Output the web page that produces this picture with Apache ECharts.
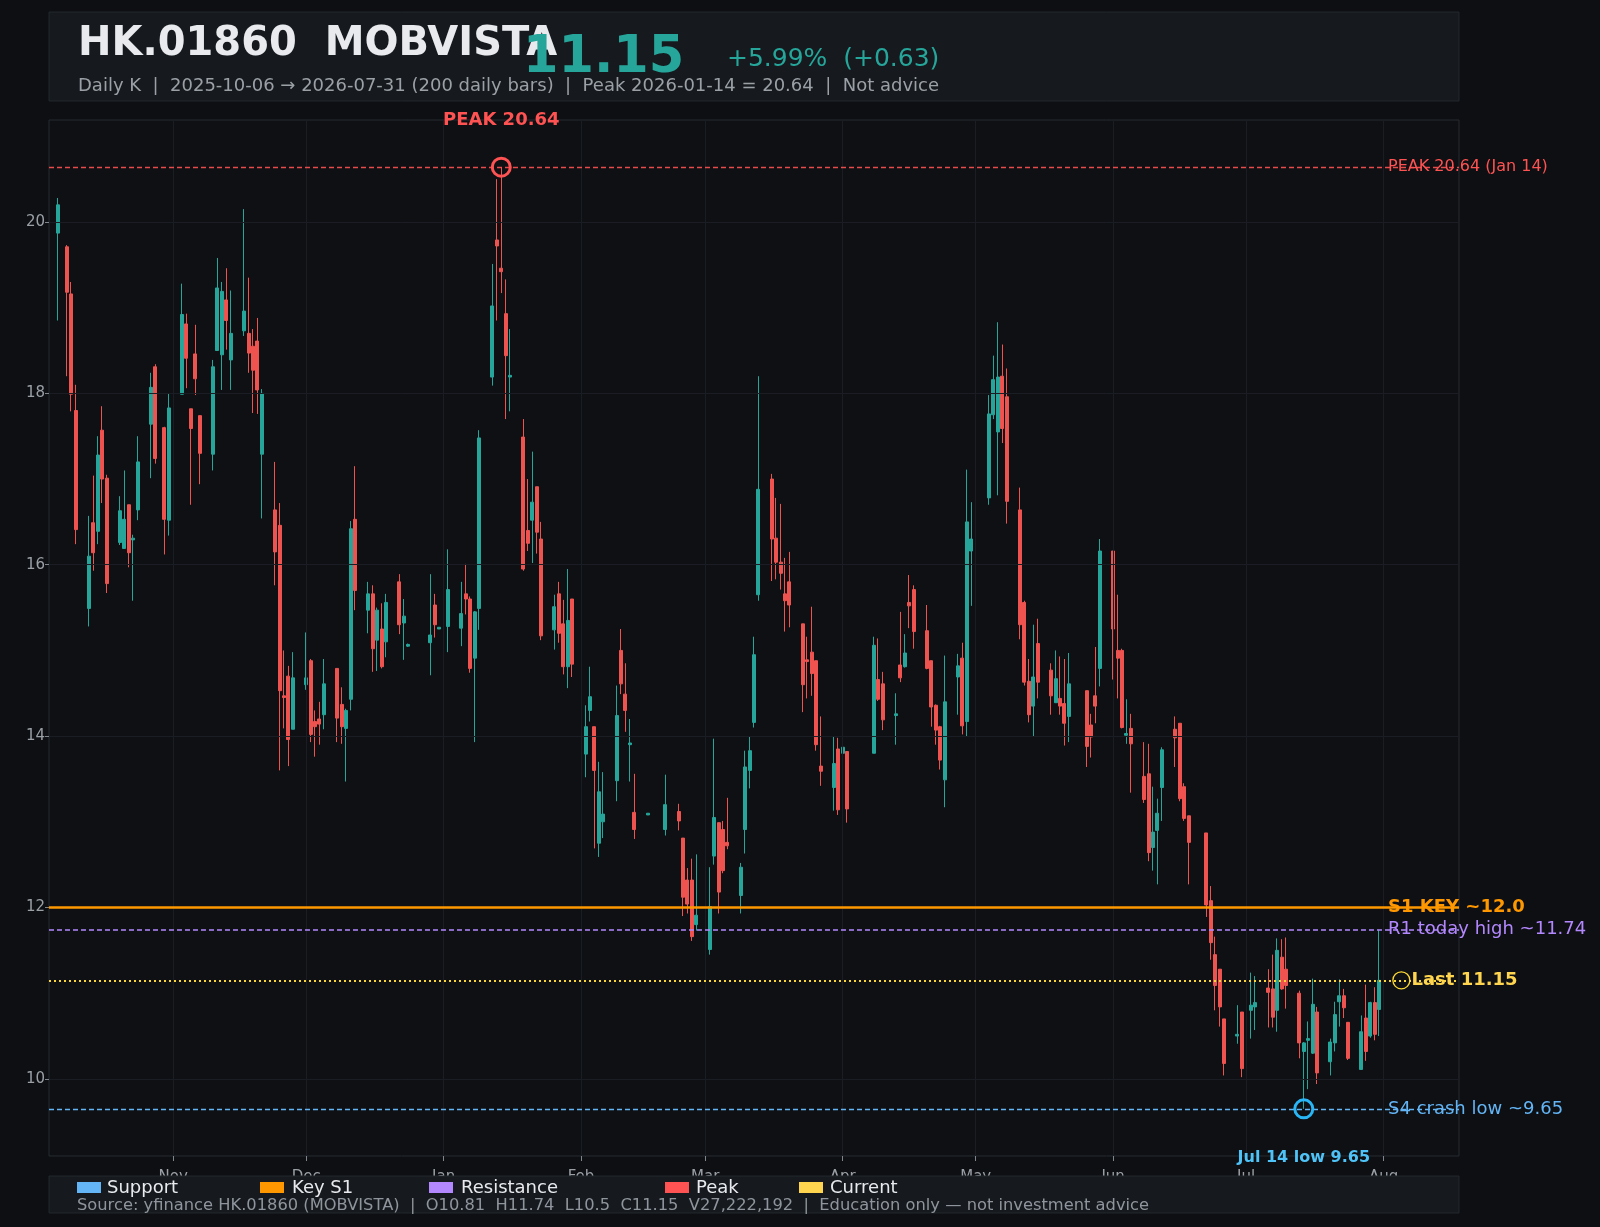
<!DOCTYPE html>
<html>
<head>
<meta charset="utf-8">
<title>HK.01860 MOBVISTA daily K</title>
<script src="https://cdn.jsdelivr.net/npm/echarts@6/dist/echarts.min.js"></script>
<style>
  html, body { margin: 0; padding: 0; background: #0d0f12; }
  #chart { width: 1600px; height: 1227px; }
</style>
</head>
<body>
<div id="chart"></div>
<script>
// trading days (HK calendar)
var tradeDays = [
  '2025-10-06','2025-10-08','2025-10-09','2025-10-10','2025-10-13','2025-10-14','2025-10-15','2025-10-16','2025-10-17',
  '2025-10-20','2025-10-21','2025-10-22','2025-10-23','2025-10-24','2025-10-27','2025-10-28','2025-10-30','2025-10-31',
  '2025-11-03','2025-11-04','2025-11-05','2025-11-06','2025-11-07','2025-11-10','2025-11-11','2025-11-12','2025-11-13','2025-11-14',
  '2025-11-17','2025-11-18','2025-11-19','2025-11-20','2025-11-21','2025-11-24','2025-11-25','2025-11-26','2025-11-27','2025-11-28',
  '2025-12-01','2025-12-02','2025-12-03','2025-12-04','2025-12-05','2025-12-08','2025-12-09','2025-12-10','2025-12-11','2025-12-12',
  '2025-12-15','2025-12-16','2025-12-17','2025-12-18','2025-12-19','2025-12-22','2025-12-23','2025-12-24','2025-12-29','2025-12-30','2025-12-31',
  '2026-01-02','2026-01-05','2026-01-06','2026-01-07','2026-01-08','2026-01-09','2026-01-12','2026-01-13','2026-01-14','2026-01-15','2026-01-16',
  '2026-01-19','2026-01-20','2026-01-21','2026-01-22','2026-01-23','2026-01-26','2026-01-27','2026-01-28','2026-01-29','2026-01-30',
  '2026-02-02','2026-02-03','2026-02-04','2026-02-05','2026-02-06','2026-02-09','2026-02-10','2026-02-11','2026-02-12','2026-02-13',
  '2026-02-16','2026-02-20','2026-02-23','2026-02-24','2026-02-25','2026-02-26','2026-02-27',
  '2026-03-02','2026-03-03','2026-03-04','2026-03-05','2026-03-06','2026-03-09','2026-03-10','2026-03-11','2026-03-12','2026-03-13',
  '2026-03-16','2026-03-17','2026-03-18','2026-03-19','2026-03-20','2026-03-23','2026-03-24','2026-03-25','2026-03-26','2026-03-27','2026-03-30','2026-03-31',
  '2026-04-01','2026-04-02','2026-04-08','2026-04-09','2026-04-10','2026-04-13','2026-04-14','2026-04-15','2026-04-16','2026-04-17',
  '2026-04-20','2026-04-21','2026-04-22','2026-04-23','2026-04-24','2026-04-27','2026-04-28','2026-04-29','2026-04-30',
  '2026-05-04','2026-05-05','2026-05-06','2026-05-07','2026-05-08','2026-05-11','2026-05-12','2026-05-13','2026-05-14','2026-05-15',
  '2026-05-18','2026-05-19','2026-05-20','2026-05-21','2026-05-22','2026-05-26','2026-05-27','2026-05-28','2026-05-29',
  '2026-06-01','2026-06-02','2026-06-03','2026-06-04','2026-06-05','2026-06-08','2026-06-09','2026-06-10','2026-06-11','2026-06-12',
  '2026-06-15','2026-06-16','2026-06-17','2026-06-18','2026-06-22','2026-06-23','2026-06-24','2026-06-25','2026-06-26','2026-06-29','2026-06-30',
  '2026-07-02','2026-07-03','2026-07-06','2026-07-07','2026-07-08','2026-07-09','2026-07-10','2026-07-13','2026-07-14','2026-07-15','2026-07-16','2026-07-17',
  '2026-07-20','2026-07-21','2026-07-22','2026-07-23','2026-07-24','2026-07-27','2026-07-28','2026-07-29','2026-07-30','2026-07-31'
];

// [open, high, low, close] per trading day
var ohlc = [
  [19.87,20.28,18.85,20.20],[19.71,19.73,18.20,19.18],[19.16,19.30,17.79,17.99],[17.80,18.10,16.24,16.41],
  [15.49,16.57,15.28,16.10],[16.49,17.04,15.93,16.14],[16.39,17.50,16.24,17.28],[17.57,17.85,16.72,17.00],[17.01,17.05,15.67,15.78],
  [16.26,16.80,16.23,16.63],[16.19,17.10,16.19,16.53],[16.70,16.70,15.97,16.14],[16.29,16.35,15.58,16.31],[16.64,17.50,16.52,17.20],
  [17.64,18.24,17.01,18.07],[18.31,18.34,17.18,17.24],[17.60,17.61,16.12,16.53],[16.52,18.00,16.34,17.83],
  [17.99,19.28,17.99,18.92],[18.81,18.93,18.06,18.41],[17.82,17.82,16.70,17.59],[18.46,18.80,17.98,18.17],[17.74,17.74,16.94,17.30],
  [17.29,18.39,17.10,18.31],[18.50,19.58,18.50,19.23],[18.45,19.30,18.04,19.19],[19.09,19.46,18.51,18.85],[18.39,19.20,18.04,18.70],
  [18.73,20.15,18.67,18.96],[18.70,19.35,18.24,18.47],[18.55,18.75,17.77,18.27],[18.61,18.88,17.76,18.04],[17.29,18.05,16.54,18.00],
  [16.64,17.20,15.76,16.15],[16.46,16.72,13.60,14.53],[14.47,15.00,14.09,14.45],[14.70,14.82,13.65,13.96],[14.08,14.98,14.08,14.68],
  [14.60,15.21,14.54,14.68],[14.88,14.90,13.93,14.02],[14.17,14.30,13.76,14.11],[14.20,14.40,13.90,14.14],[14.25,14.90,14.08,14.61],
  [14.79,14.79,13.93,14.21],[14.37,14.57,13.91,14.11],[14.09,14.32,13.47,14.30],[14.43,16.51,14.30,16.42],[16.53,17.15,15.47,15.70],
  [15.47,15.80,15.20,15.66],[15.66,15.76,14.75,15.02],[15.12,15.50,14.76,15.47],[15.25,15.55,14.79,14.81],[15.10,15.66,14.92,15.56],
  [15.80,15.89,15.19,15.30],[15.32,15.60,14.89,15.40],[15.05,15.08,15.04,15.07],[15.09,15.89,14.71,15.18],[15.53,15.66,15.15,15.30],[15.25,15.27,15.25,15.27],
  [15.28,16.18,14.98,15.71],[15.26,15.80,15.05,15.43],[15.66,16.01,15.42,15.60],[15.60,15.63,14.74,14.79],[14.91,15.46,13.93,15.45],[15.49,17.57,15.24,17.48],
  [18.19,19.51,18.09,19.02],[19.79,20.50,18.85,19.72],[19.46,20.64,19.17,19.42],[18.93,19.33,17.70,18.44],[18.19,18.75,17.79,18.21],
  [17.49,17.70,15.93,15.95],[16.40,17.00,16.16,16.25],[16.52,17.32,16.02,16.73],[16.91,16.91,16.13,16.38],[16.30,16.50,15.12,15.17],
  [15.24,15.65,15.01,15.51],[15.66,15.80,15.09,15.20],[15.31,15.59,14.72,14.81],[14.81,15.95,14.56,15.35],[15.60,15.60,14.69,14.84],
  [13.79,14.36,13.52,14.11],[14.30,14.81,14.17,14.46],[14.11,14.11,12.69,13.60],[12.75,13.70,12.59,13.35],[13.00,13.58,12.81,13.09],
  [13.48,14.59,13.24,14.24],[15.00,15.25,14.49,14.61],[14.49,14.85,14.05,14.30],[13.90,14.20,13.47,13.92],[13.11,13.56,12.80,12.91],
  [13.08,13.10,13.08,13.10],[12.91,13.55,12.84,13.20],[13.12,13.21,12.90,13.01],[12.81,12.81,11.90,12.12],[12.32,12.46,11.93,12.04],
  [12.32,12.57,11.61,11.66],[11.80,12.62,11.73,11.91],
  [11.51,12.47,11.45,12.01],[12.60,13.97,12.50,13.05],[12.99,12.99,11.93,12.18],[12.91,13.01,12.40,12.43],[12.76,13.28,12.68,12.72],
  [12.14,12.52,11.93,12.47],[12.91,13.83,12.63,13.64],[13.60,14.00,13.39,13.83],[14.16,15.16,14.10,14.95],[15.65,18.20,15.58,16.88],
  [17.00,17.06,15.81,16.30],[16.31,16.78,15.83,16.03],[16.03,16.71,15.71,15.90],[15.66,16.08,15.22,15.58],[15.80,16.15,15.27,15.53],
  [15.31,15.31,14.28,14.60],[14.89,15.16,14.44,14.87],[14.98,15.51,14.47,14.73],[14.88,14.88,13.83,13.90],[13.65,14.23,13.42,13.59],
  [13.40,14.00,13.13,13.68],[13.85,13.98,13.08,13.14],
  [13.80,14.07,13.45,13.87],[13.82,13.82,12.99,13.15],[13.80,15.16,13.80,15.06],[14.66,15.14,14.41,14.43],[14.61,14.75,14.07,14.19],
  [14.24,14.50,13.90,14.26],[14.83,15.45,14.63,14.68],[14.81,15.19,14.80,14.97],[15.56,15.88,15.26,15.52],[15.71,15.76,15.02,15.22],
  [15.23,15.53,14.78,14.79],[14.88,14.88,14.11,14.34],[14.36,14.37,13.90,14.07],[14.11,14.12,13.61,13.72],[13.49,14.94,13.17,14.40],
  [14.69,14.96,14.25,14.82],[14.91,15.09,14.02,14.12],[14.17,17.11,13.99,16.50],[16.16,16.73,15.52,16.30],
  [16.78,17.98,16.70,17.76],[17.75,18.44,17.70,18.16],[17.55,18.83,16.81,18.19],[18.20,18.57,17.42,17.59],[17.96,18.29,16.48,16.74],
  [16.64,16.90,15.13,15.30],[15.56,15.58,14.59,14.63],[14.64,14.90,14.16,14.25],[14.35,15.30,13.99,14.69],[15.08,15.37,14.44,14.63],
  [14.77,14.85,14.25,14.47],[14.39,15.00,14.39,14.67],[14.44,14.93,14.25,14.35],[14.38,14.90,13.89,14.15],[14.23,14.97,13.93,14.61],
  [14.53,14.53,13.64,13.88],[14.13,14.26,13.75,13.99],[14.47,15.04,14.15,14.35],[14.79,16.30,14.58,16.16],
  [16.16,16.16,14.66,15.25],[15.00,15.65,14.44,14.91],[15.00,15.02,14.09,14.10],[14.01,14.43,13.91,14.03],[14.09,14.26,13.34,13.91],
  [13.53,13.93,13.22,13.26],[13.56,13.91,12.54,12.64],[12.70,13.41,12.43,12.88],[12.90,13.27,12.27,13.10],[13.40,13.87,13.01,13.84],
  [14.08,14.23,13.64,13.98],[14.15,14.15,13.24,13.27],[13.41,13.45,13.01,13.04],[13.07,13.07,12.27,12.76],
  [12.87,12.87,11.89,12.03],[12.08,12.25,11.39,11.59],[11.45,11.66,10.80,11.09],[11.28,11.28,10.61,10.84],[10.70,10.70,10.04,10.18],
  [10.50,10.86,10.41,10.52],[10.78,10.78,10.02,10.12],
  [10.80,11.24,10.47,10.86],[10.84,11.20,10.57,10.89],
  [11.06,11.28,10.60,11.01],[11.05,11.45,10.60,10.72],[10.80,11.64,10.55,11.50],[11.42,11.63,11.04,11.05],[11.28,11.65,10.82,11.09],
  [11.00,11.03,10.24,10.42],[10.32,10.43,9.65,10.42],[10.45,10.67,9.88,10.47],[10.30,11.17,10.29,10.87],[10.78,10.84,9.94,10.07],
  [10.20,10.47,10.04,10.43],[10.42,10.90,10.32,10.75],[10.90,11.16,10.61,10.97],[10.97,11.05,10.71,10.83],[10.66,10.66,10.22,10.24],
  [10.11,10.74,10.11,10.55],[10.71,11.10,10.21,10.32],[10.50,10.90,10.48,10.89],[10.89,11.07,10.45,10.52],[10.81,11.74,10.50,11.15]
];

var monthTicks = ['2025-11-01','2025-12-01','2026-01-01','2026-02-01','2026-03-01','2026-04-01',
                  '2026-05-01','2026-06-01','2026-07-01','2026-08-01'];
var monthNames = ['Jan','Feb','Mar','Apr','May','Jun','Jul','Aug','Sep','Oct','Nov','Dec'];
var priceTicks = [10, 12, 14, 16, 18, 20];

var peakDay = '2026-01-14', peakPrice = 20.64;
var lowDay = '2026-07-14', lowPrice = 9.65;
var keyS1 = 12.0, resR1 = 11.74, supS4 = 9.65;
var tagDay = '2026-08-02', lastMarkDay = '2026-08-05';
var volume = '27,222,192';

// dates as day numbers (UTC) so the x axis is a plain value axis
function ts(s) {
  var p = s.split('-');
  return Date.UTC(+p[0], +p[1] - 1, +p[2]) / 86400000;
}

var candles = tradeDays.map(function (d, i) {
  var r = ohlc[i];
  return [ts(d), r[0], r[3], r[2], r[1]];
});

var last = ohlc[ohlc.length - 1];
var prevClose = ohlc[ohlc.length - 2][3];
var lastClose = last[3];
var chg = lastClose - prevClose;
var chgPct = chg / prevClose * 100;

var FONT = 'DejaVu Sans';
var chart = echarts.init(document.getElementById('chart'));

var option = {
  backgroundColor: '#0d0f12',
  animation: false,
  textStyle: { fontFamily: FONT },
  grid: {
    left: 49, top: 120, width: 1410, height: 1036,
    show: true, backgroundColor: '#0e1013', borderColor: '#262b31', borderWidth: 1
  },
  xAxis: {
    type: 'value',
    min: ts('2025-10-04'),
    max: ts('2026-08-18'),
    axisLine: { show: false },
    axisTick: {
      show: true, customValues: monthTicks.map(ts), length: 5,
      lineStyle: { color: '#80868e' }
    },
    axisLabel: {
      customValues: monthTicks.map(ts),
      formatter: function (v) { return monthNames[new Date(v * 86400000).getUTCMonth()]; },
      color: '#9aa0a6', fontSize: 15, fontFamily: FONT, margin: 14
    },
    splitLine: { show: false }
  },
  yAxis: {
    type: 'value',
    min: 9.10,
    max: 21.19,
    axisLine: { show: false },
    axisTick: {
      show: true, customValues: priceTicks, length: 4,
      lineStyle: { color: '#80868e' }
    },
    axisLabel: {
      customValues: priceTicks,
      color: '#9aa0a6', fontSize: 15, fontFamily: FONT, margin: 4
    },
    splitLine: { show: false }
  },
  series: [
    {
      // faint grid
      name: 'grid',
      type: 'line',
      data: [],
      silent: true,
      z: 1,
      markLine: {
        silent: true,
        symbol: 'none',
        label: { show: false },
        lineStyle: { color: '#1a1e24', width: 1, type: 'solid' },
        data: monthTicks.map(function (m) { return { xAxis: ts(m) }; })
          .concat(priceTicks.map(function (p) { return { yAxis: p }; }))
      }
    },
    {
      name: 'HK.01860',
      type: 'candlestick',
      data: candles,
      encode: { x: 0, y: [1, 2, 3, 4] },
      barWidth: 3.5,
      z: 3,
      itemStyle: {
        color: '#26a69a', color0: '#ef5350',
        borderColor: '#26a69a', borderColor0: '#ef5350',
        borderWidth: 1
      },
      markLine: {
        silent: true,
        symbol: 'none',
        label: { show: false },
        data: [
          { yAxis: peakPrice, lineStyle: { color: '#ff5252', type: [5, 3], width: 1.3, opacity: 0.9 } },
          { yAxis: keyS1, lineStyle: { color: '#ff9800', type: 'solid', width: 2.5 } },
          { yAxis: resR1, lineStyle: { color: '#b388ff', type: [5, 3], width: 1.5 } },
          { yAxis: lastClose, lineStyle: { color: '#fdd835', type: [2, 3], width: 1.8 } },
          { yAxis: supS4, lineStyle: { color: '#64b5f6', type: [5, 3], width: 1.3 } }
        ]
      }
    },
    {
      // highlighted points
      name: 'marks',
      type: 'scatter',
      z: 5,
      silent: true,
      symbol: 'circle',
      itemStyle: { opacity: 1 },
      data: [
        {
          value: [ts(peakDay), peakPrice], symbolSize: 18,
          itemStyle: { color: 'rgba(0,0,0,0)', borderColor: '#ff5252', borderWidth: 3, opacity: 1 },
          label: {
            show: true, position: 'top', distance: 27,
            formatter: 'PEAK ' + peakPrice.toFixed(2),
            color: '#ff5252', fontWeight: 'bold', fontSize: 18, fontFamily: FONT
          }
        },
        {
          value: [ts(lowDay), lowPrice], symbolSize: 18,
          itemStyle: { color: 'rgba(0,0,0,0)', borderColor: '#29b6f6', borderWidth: 3, opacity: 1 },
          label: {
            show: true, position: 'bottom', distance: 30,
            formatter: 'Jul 14 low ' + lowPrice.toFixed(2),
            color: '#4fc3f7', fontWeight: 'bold', fontSize: 16, fontFamily: FONT
          }
        },
        {
          value: [ts(lastMarkDay), lastClose], symbolSize: 17,
          itemStyle: { color: 'rgba(0,0,0,0)', borderColor: '#fdd835', borderWidth: 1.3, opacity: 1 },
          label: {
            show: true, position: 'right', distance: 1,
            formatter: 'Last ' + lastClose.toFixed(2),
            color: '#ffd54f', fontWeight: 'bold', fontSize: 18, fontFamily: FONT
          }
        }
      ]
    },
    {
      // level tags at right
      name: 'tags',
      type: 'scatter',
      z: 6,
      silent: true,
      symbolSize: 0,
      itemStyle: { opacity: 1 },
      label: { show: true, position: 'right', distance: 0, fontSize: 18, fontFamily: FONT },
      data: [
        { value: [ts(tagDay), peakPrice], label: { formatter: 'PEAK ' + peakPrice.toFixed(2) + ' (Jan 14)', color: '#ff5252', fontSize: 16 } },
        { value: [ts(tagDay), keyS1], label: { formatter: 'S1 KEY ~' + keyS1.toFixed(1), color: '#ff9800', fontWeight: 'bold' } },
        { value: [ts(tagDay), resR1], label: { formatter: 'R1 today high ~' + resR1.toFixed(2), color: '#b388ff' } },
        { value: [ts(tagDay), supS4], label: { formatter: 'S4 crash low ~' + supS4.toFixed(2), color: '#64b5f6' } }
      ]
    }
  ],
  graphic: [
    { type: 'rect', z: 100, shape: { x: 49, y: 12, width: 1410, height: 89 },
      style: { fill: '#161a1f', stroke: '#23282e', lineWidth: 1 } },
    { type: 'text', z: 101, x: 78, y: 45,
      style: { text: 'HK.01860  MOBVISTA', font: 'bold 40px "DejaVu Sans"', fill: '#e8eaed', textVerticalAlign: 'middle' } },
    { type: 'text', z: 102, x: 523, y: 59,
      style: { text: lastClose.toFixed(2), font: 'bold 51px "DejaVu Sans"', fill: '#26a69a', textVerticalAlign: 'middle' } },
    { type: 'text', z: 101, x: 727, y: 59,
      style: { text: '+' + chgPct.toFixed(2) + '%  (+' + chg.toFixed(2) + ')', font: '25px "DejaVu Sans"', fill: '#26a69a', textVerticalAlign: 'middle' } },
    { type: 'text', z: 101, x: 78, y: 86,
      style: { text: 'Daily K  |  ' + tradeDays[0] + ' \u2192 ' + tradeDays[tradeDays.length - 1] + ' (' + tradeDays.length + ' daily bars)  |  Peak ' + peakDay + ' = ' + peakPrice.toFixed(2) + '  |  Not advice',
               font: '18px "DejaVu Sans"', fill: '#9aa0a6', textVerticalAlign: 'middle' } },

    { type: 'rect', z: 100, shape: { x: 49, y: 1176, width: 1410, height: 37 },
      style: { fill: '#161a1f', stroke: '#23282e', lineWidth: 1 } },
    { type: 'rect', z: 101, shape: { x: 77, y: 1182, width: 24, height: 11 }, style: { fill: '#64b5f6' } },
    { type: 'text', z: 101, x: 107, y: 1188, style: { text: 'Support', font: '18px "DejaVu Sans"', fill: '#e8eaed', textVerticalAlign: 'middle' } },
    { type: 'rect', z: 101, shape: { x: 260, y: 1182, width: 24, height: 11 }, style: { fill: '#ff9800' } },
    { type: 'text', z: 101, x: 292, y: 1188, style: { text: 'Key S1', font: '18px "DejaVu Sans"', fill: '#e8eaed', textVerticalAlign: 'middle' } },
    { type: 'rect', z: 101, shape: { x: 429, y: 1182, width: 24, height: 11 }, style: { fill: '#b388ff' } },
    { type: 'text', z: 101, x: 461, y: 1188, style: { text: 'Resistance', font: '18px "DejaVu Sans"', fill: '#e8eaed', textVerticalAlign: 'middle' } },
    { type: 'rect', z: 101, shape: { x: 665, y: 1182, width: 24, height: 11 }, style: { fill: '#ff5252' } },
    { type: 'text', z: 101, x: 696, y: 1188, style: { text: 'Peak', font: '18px "DejaVu Sans"', fill: '#e8eaed', textVerticalAlign: 'middle' } },
    { type: 'rect', z: 101, shape: { x: 799, y: 1182, width: 24, height: 11 }, style: { fill: '#ffd54f' } },
    { type: 'text', z: 101, x: 830, y: 1188, style: { text: 'Current', font: '18px "DejaVu Sans"', fill: '#e8eaed', textVerticalAlign: 'middle' } },
    { type: 'text', z: 101, x: 77, y: 1206,
      style: { text: 'Source: yfinance HK.01860 (MOBVISTA)  |  O' + last[0] + '  H' + last[1] + '  L' + last[2] + '  C' + last[3] + '  V' + volume + '  |  Education only \u2014 not investment advice',
               font: '16.3px "DejaVu Sans"', fill: '#8f959c', textVerticalAlign: 'middle' } }
  ]
};

chart.setOption(option);
window.addEventListener('resize', chart.resize);
</script>
</body>
</html>
